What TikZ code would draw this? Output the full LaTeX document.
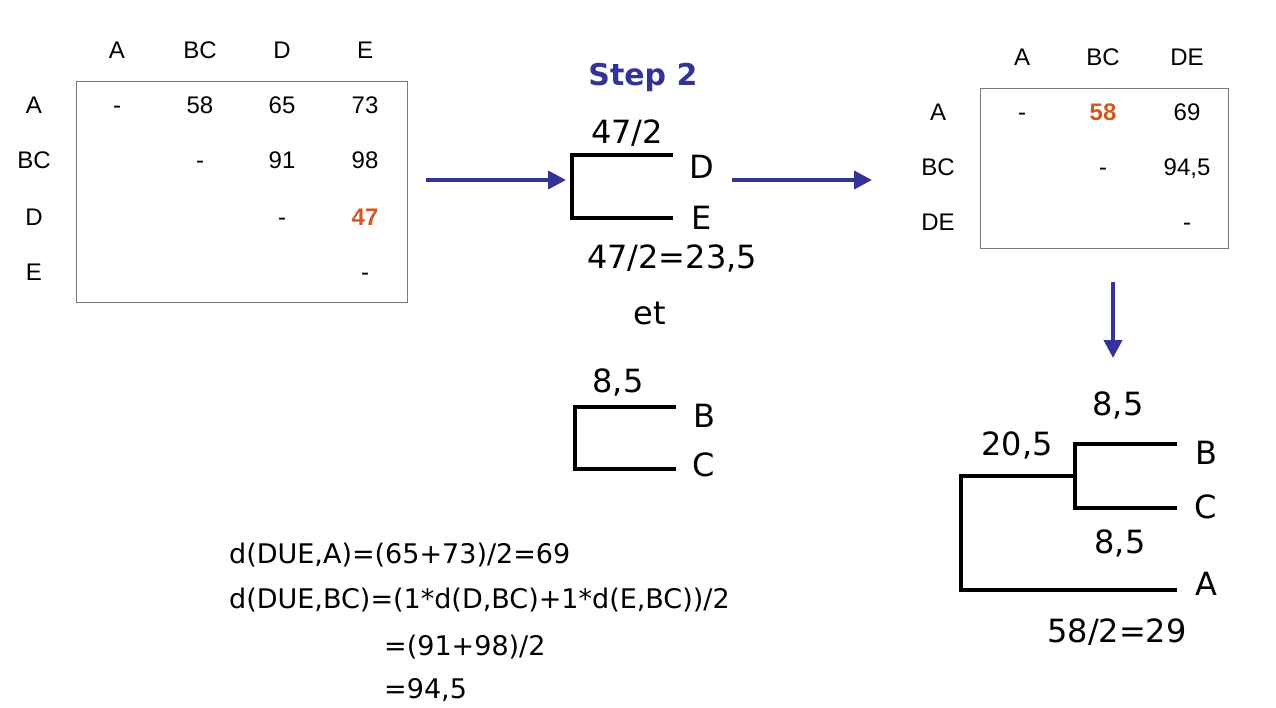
\documentclass[tikz,border=0pt]{standalone}
\usepackage{xcolor}
\usepackage{fontspec}
\setmainfont{Liberation Sans}
\newfontfamily\comicfont{DejaVu Sans}
\usepackage{tikz}
\usetikzlibrary{arrows.meta}

\definecolor{stepblue}{RGB}{51,51,153}
\definecolor{minorange}{RGB}{212,88,30}
\definecolor{boxgray}{RGB}{120,120,120}

\tikzset{
  cell/.style={inner sep=0pt, text height=17pt, text depth=0pt, font=\fontsize{24}{26}\selectfont},
  mincell/.style={cell, text=minorange, font=\fontsize{24}{26}\selectfont\bfseries},
  treelab/.style={inner sep=0pt, font=\comicfont\fontsize{32}{34}\selectfont},
  calclab/.style={inner sep=0pt, font=\comicfont\fontsize{27}{30}\selectfont},
  branch/.style={line width=4pt, line join=miter},
  bigarrow/.style={stepblue, line width=4pt, -{Triangle[length=18pt,width=18pt]}}
}

\begin{document}
\begin{tikzpicture}[x=1pt,y=-1pt]
\useasboundingbox (0,0) rectangle (1276,708);

%% Matrice de depart %%%%%%%%%%%%%%%%%%%%%%%%%%%%%%%%
\draw[boxgray, line width=1pt] (76,82) rectangle (407,303);
\foreach \lab/\x in {A/117,BC/200,D/282,E/365}{
\node[cell] (lh\lab) at (\x,50) {\lab};
}
\foreach \lab/\y in {A/105,BC/160,D/217,E/272}{
\node[cell] (lr\lab) at (34,\y) {\lab};
}
% (x , y , valeur)
\foreach \x/\y/\v [count=\i] in {117/105/-,200/105/58,282/105/65,365/105/73,
                                 200/160/-,282/160/91,365/160/98,
                                 282/217/-,365/272/-}{
\node[cell] (lc\i) at (\x,\y) {\v};
}
\node[mincell] (lmin) at (365,217) {47};

%% Fleches %%%%%%%%%%%%%%%%%%%%%%%%%%%%%%%%%%%%%%%%%%%
\coordinate (arrAs) at (426,180);
\coordinate (arrAe) at (566,180);
\coordinate (arrBs) at (732,180);
\coordinate (arrBe) at (872,180);
\coordinate (arrCs) at (1113,282);
\coordinate (arrCe) at (1113,358);
\draw[bigarrow] (arrAs) -- (arrAe);
\draw[bigarrow] (arrBs) -- (arrBe);
\draw[bigarrow] (arrCs) -- (arrCe);

\node[inner sep=0pt, text=stepblue, font=\comicfont\fontsize{30}{32}\selectfont\bfseries] (step) at (643,77) {Step 2};

%% Arbre D-E %%%%%%%%%%%%%%%%%%%%%%%%%%%%%%%%%%%%%%%%%
\draw[branch] (673,155) -- (572,155) -- (572,218) -- (673,218);
\node[treelab] (lenDE) at (627,133) {47/2};
\node[treelab] (leafD) at (702,167) {D};
\node[treelab] (leafE) at (702,218) {E};
\node[treelab] (calcDE) at (672,258) {47/2=23,5};
\node[treelab] (et) at (650,313) {et};

%% Arbre B-C %%%%%%%%%%%%%%%%%%%%%%%%%%%%%%%%%%%%%%%%%
\draw[branch] (676,407) -- (575,407) -- (575,469) -- (676,469);
\node[treelab] (lenBC) at (618,382) {8,5};
\node[treelab] (leafB) at (704,416) {B};
\node[treelab] (leafC) at (704,465) {C};

%% Calcul des distances %%%%%%%%%%%%%%%%%%%%%%%%%%%%%%%
\node[calclab, anchor=west] (dA) at (229,555) {d(DUE,A)=(65+73)/2=69};
\node[calclab, anchor=west] (dBC) at (229,600) {d(DUE,BC)=(1*d(D,BC)+1*d(E,BC))/2};
\node[calclab, anchor=west] (dBCa) at (384,647) {=(91+98)/2};
\node[calclab, anchor=west] (dBCb) at (384,690) {=94,5};

%% Nouvelle matrice %%%%%%%%%%%%%%%%%%%%%%%%%%%%%%%%%%
\draw[boxgray, line width=1pt] (980,89) rectangle (1228,249);
\foreach \lab/\x in {A/1022,BC/1103,DE/1187}{
\node[cell] (rh\lab) at (\x,57) {\lab};
}
\foreach \lab/\y in {A/112,BC/167,DE/222}{
\node[cell] (rr\lab) at (938,\y) {\lab};
}
\foreach \x/\y/\v [count=\i] in {1022/112/-,1187/112/69,
                                 1103/167/-,1187/167/{94,5},
                                 1187/222/-}{
\node[cell] (rc\i) at (\x,\y) {\v};
}
\node[mincell] (rmin) at (1103,112) {58};

%% Arbre final %%%%%%%%%%%%%%%%%%%%%%%%%%%%%%%%%%%%%%%
\draw[branch] (1177,444) -- (1075,444) -- (1075,508) -- (1177,508);
\draw[branch] (1075,476) -- (961,476) -- (961,590) -- (1177,590);
\node[treelab] (lenB) at (1118,405) {8,5};
\node[treelab] (lenBCA) at (1017,445) {20,5};
\node[treelab] (lenC) at (1120,543) {8,5};
\node[treelab] (leafB2) at (1206,453) {B};
\node[treelab] (leafC2) at (1206,507) {C};
\node[treelab] (leafA2) at (1206,584) {A};
\node[treelab] (calcA) at (1117,632) {58/2=29};
\end{tikzpicture}
\end{document}
